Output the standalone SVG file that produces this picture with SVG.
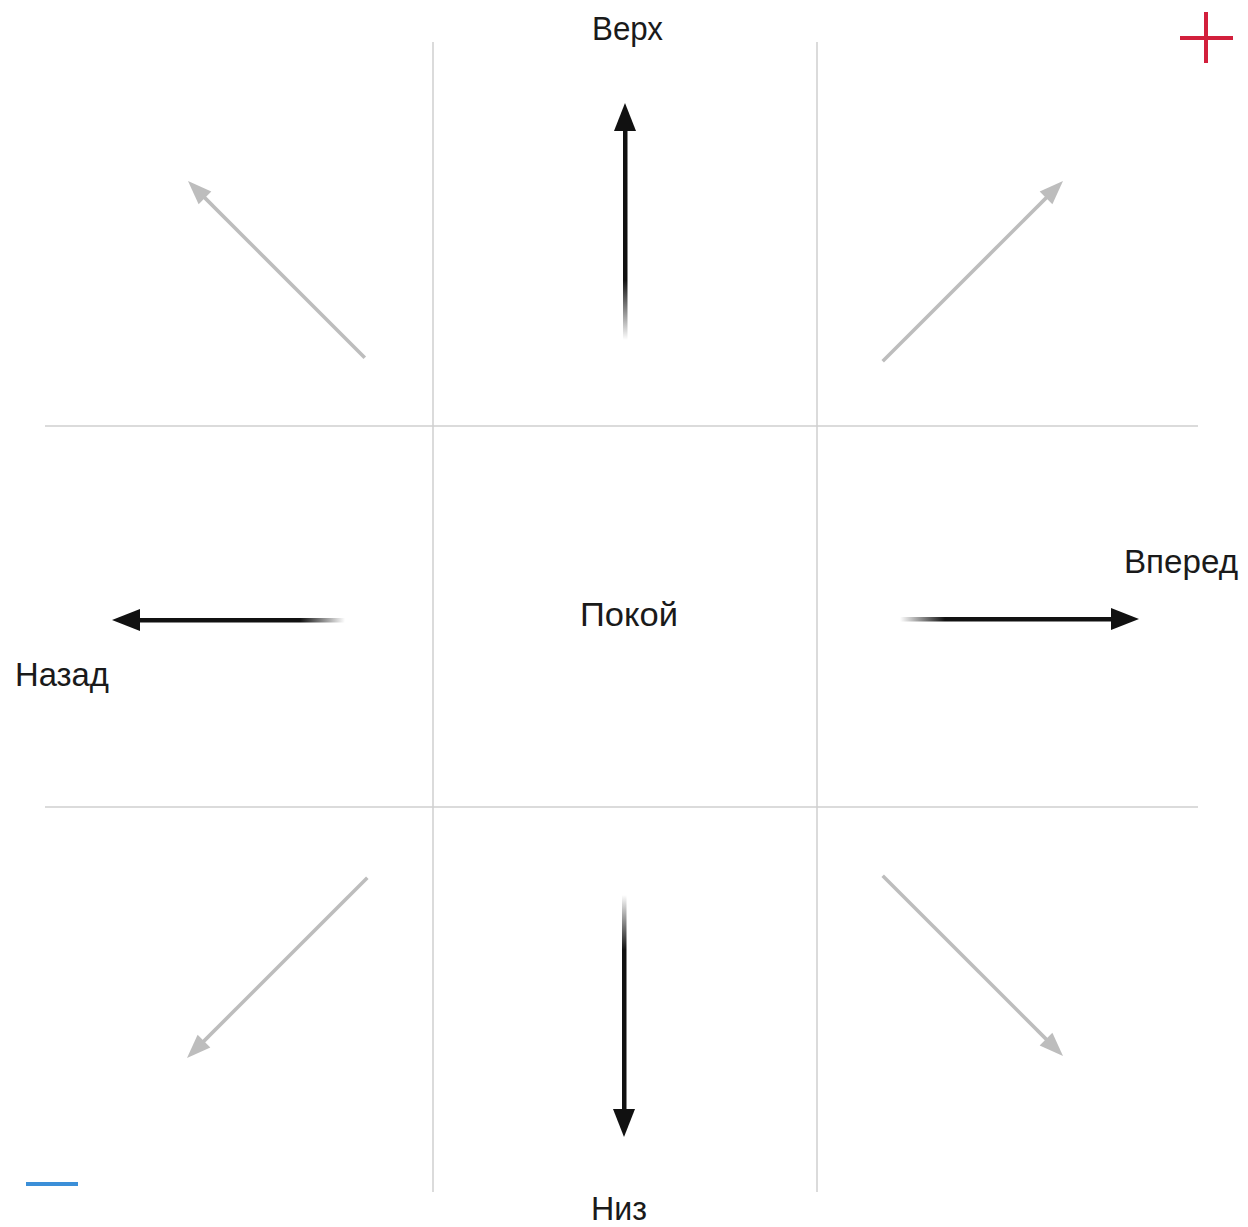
<svg xmlns="http://www.w3.org/2000/svg" width="1248" height="1227" viewBox="0 0 1248 1227">
<style>
.grid{stroke:#cfcfcf;stroke-width:1.5;fill:none}
.lbl{font-family:"Liberation Sans",Arial,sans-serif;font-size:33px;fill:#1a1a1a}
.dk{fill:#111}
.lt{fill:#bdbdbd}
</style>
<defs>
<linearGradient id="gUp" gradientUnits="userSpaceOnUse" x1="0" y1="340" x2="0" y2="280"><stop offset="0" stop-color="#111" stop-opacity="0"/><stop offset="1" stop-color="#111"/></linearGradient>
<linearGradient id="gDn" gradientUnits="userSpaceOnUse" x1="0" y1="895" x2="0" y2="950"><stop offset="0" stop-color="#111" stop-opacity="0"/><stop offset="1" stop-color="#111"/></linearGradient>
<linearGradient id="gRt" gradientUnits="userSpaceOnUse" x1="900" y1="0" x2="945" y2="0"><stop offset="0" stop-color="#111" stop-opacity="0"/><stop offset="1" stop-color="#111"/></linearGradient>
<linearGradient id="gLf" gradientUnits="userSpaceOnUse" x1="345" y1="0" x2="300" y2="0"><stop offset="0" stop-color="#111" stop-opacity="0"/><stop offset="1" stop-color="#111"/></linearGradient>
</defs>
<rect width="1248" height="1227" fill="#fff"/>
<g id="grid">
<line class="grid" x1="433" y1="42" x2="433" y2="1192"/>
<line class="grid" x1="817" y1="42" x2="817" y2="1192"/>
<line class="grid" x1="45" y1="426" x2="1198" y2="426"/>
<line class="grid" x1="45" y1="807" x2="1198" y2="807"/>
</g>
<g id="connectors">
<g id="arrow-up"><rect x="623" y="125" width="4.5" height="215" fill="url(#gUp)"/><polygon class="dk" points="625,103 614,131 636,131"/></g>
<g id="arrow-down"><rect x="622" y="895" width="4.5" height="220" fill="url(#gDn)"/><polygon class="dk" points="624,1137 613,1109 635,1109"/></g>
<g id="arrow-right"><rect x="900" y="617" width="215" height="4.5" fill="url(#gRt)"/><polygon class="dk" points="1139,619 1111,608 1111,630"/></g>
<g id="arrow-left"><rect x="135" y="618" width="210" height="4.5" fill="url(#gLf)"/><polygon class="dk" points="112,620 140,609 140,631"/></g>
<g id="diag-ul" transform="translate(188,181) rotate(45)"><rect x="15" y="-1.8" width="235" height="3.6" class="lt"/><polygon class="lt" points="0,0 24,-9 24,9"/></g>
<g id="diag-ur" transform="translate(1063,181) rotate(135)"><rect x="15" y="-1.8" width="240" height="3.6" class="lt"/><polygon class="lt" points="0,0 24,-9 24,9"/></g>
<g id="diag-ll" transform="translate(187,1058) rotate(-45)"><rect x="15" y="-1.8" width="240" height="3.6" class="lt"/><polygon class="lt" points="0,0 24,-9 24,9"/></g>
<g id="diag-lr" transform="translate(1063,1056) rotate(-135)"><rect x="15" y="-1.8" width="240" height="3.6" class="lt"/><polygon class="lt" points="0,0 24,-9 24,9"/></g>
</g>
<g id="node-up"><text class="lbl" x="592" y="40" textLength="71" lengthAdjust="spacingAndGlyphs">Верх</text></g>
<g id="node-forward"><text class="lbl" x="1124" y="573" textLength="114" lengthAdjust="spacingAndGlyphs">Вперед</text></g>
<g id="node-rest"><text class="lbl" x="580" y="626" textLength="98" lengthAdjust="spacingAndGlyphs">Покой</text></g>
<g id="node-back"><text class="lbl" x="15" y="686" textLength="94" lengthAdjust="spacingAndGlyphs">Назад</text></g>
<g id="node-down"><text class="lbl" x="591" y="1220" textLength="56" lengthAdjust="spacingAndGlyphs">Низ</text></g>
<g id="plus"><line x1="1180" y1="38" x2="1233" y2="38" stroke="#d21f3c" stroke-width="4"/><line x1="1206" y1="12" x2="1206" y2="63" stroke="#d21f3c" stroke-width="4"/></g>
<g id="minus"><line x1="26" y1="1184" x2="78" y2="1184" stroke="#3b8fd8" stroke-width="4"/></g>
</svg>
